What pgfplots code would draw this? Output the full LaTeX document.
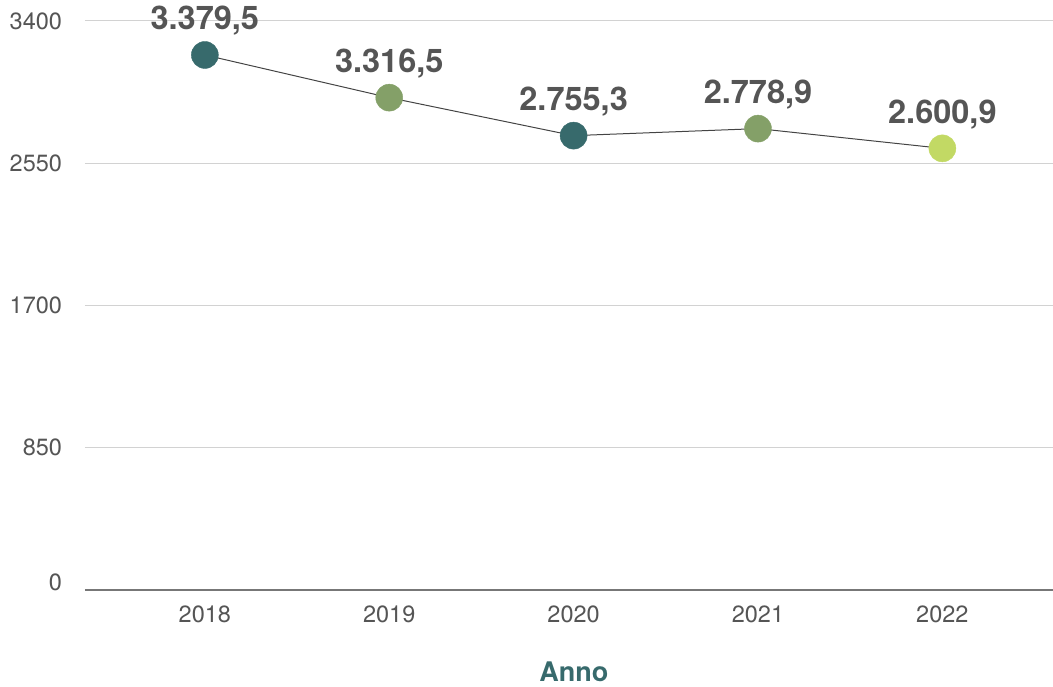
\documentclass[border=0pt]{standalone}
\usepackage{pgfplots}
\usepackage{pgfplotstable}
\usepackage{fontspec}
\setmainfont{TeX Gyre Heros}
\pgfplotsset{compat=1.18}

\definecolor{tealdark}{HTML}{376A6C}
\definecolor{sage}{HTML}{84A068}
\definecolor{lime}{HTML}{C2D964}
\definecolor{labgrey}{HTML}{555555}
\definecolor{linegrey}{HTML}{444444}
\definecolor{gridgrey}{HTML}{D2D2D2}
\definecolor{basegrey}{HTML}{777777}

% x = year index, y = plotted position, cls = marker colour, label = shown value
\pgfplotstableread{
x y    cls label
0 3197 a   3.379,5
1 2942 b   3.316,5
2 2715 a   2.755,3
3 2757 b   2.778,9
4 2639 c   2.600,9
}\consumo

\begin{document}
\begin{tikzpicture}
\useasboundingbox (-85pt,-96pt) rectangle (968pt,590pt);
\begin{axis}[
  at={(0,0)}, anchor=south west,
  scale only axis, width=968pt, height=590pt,
  xmin=-0.65, xmax=4.6, ymin=0, ymax=3525.5,
  clip=false,
  axis line style={draw=none},
  major tick length=0pt,
  ytick={850,1700,2550,3400},
  ymajorgrids,
  major grid style={draw=gridgrey, line width=1pt},
  extra y ticks={0},
  extra y tick style={
    grid=major,
    major grid style={draw=basegrey, line width=2.5pt},
    yticklabel style={yshift=8pt}},
  xtick={0,1,2,3,4},
  xticklabels={2018,2019,2020,2021,2022},
  /pgf/number format/assume math mode=true,
  /pgf/number format/set thousands separator={},
  tick label style={font=\fontsize{23.5}{27}\selectfont, text=labgrey},
  yticklabel style={xshift=-19.5pt},
  xticklabel style={yshift=-12.5pt},
  xlabel={Anno},
  xlabel style={at={(axis description cs:0.505,0)}, anchor=base,
    yshift=-91pt, font=\bfseries\fontsize{27}{32}\selectfont, text=tealdark},
]
\addplot[draw=linegrey, line width=1pt, mark=none,
  nodes near coords, point meta=explicit symbolic,
  every node near coord/.append style={anchor=base, yshift=25pt,
    font=\bfseries\fontsize{32.5}{38}\selectfont, text=labgrey}]
  table[x=x, y=y, meta=label] {\consumo};
\addplot[scatter, only marks, scatter src=explicit symbolic,
  mark size=13.5pt,
  scatter/classes={
    a={mark=*, draw=tealdark, fill=tealdark},
    b={mark=*, draw=sage, fill=sage},
    c={mark=*, draw=lime, fill=lime}}]
  table[x=x, y=y, meta=cls] {\consumo};
\end{axis}
\end{tikzpicture}
\end{document}
